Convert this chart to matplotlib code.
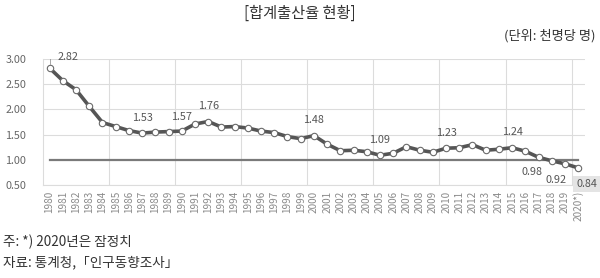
import matplotlib
matplotlib.use("Agg")
import matplotlib.pyplot as plt

plt.rcParams['font.family'] = ['Noto Sans CJK KR', 'DejaVu Sans']

years = [str(y) for y in range(1980, 2020)] + ["2020*)"]
tfr = [2.82, 2.57, 2.39, 2.06, 1.74, 1.66, 1.58, 1.53, 1.55, 1.56,
       1.57, 1.71, 1.76, 1.65, 1.66, 1.63, 1.57, 1.54, 1.46, 1.42,
       1.48, 1.31, 1.18, 1.19, 1.16, 1.09, 1.13, 1.26, 1.19, 1.15,
       1.23, 1.24, 1.30, 1.19, 1.21, 1.24, 1.17, 1.05, 0.98, 0.92,
       0.84]
ref_level = 1.0
# indices of labelled points
label_idx = [0, 7, 10, 12, 20, 25, 30, 35, 38, 39, 40]

fig = plt.figure(figsize=(6, 2.78), dpi=100)
ax = fig.add_axes([0.0717, 0.3345, 0.903, 0.4532])

x = list(range(len(tfr)))
grid_c = "#dcdcdc"
for yv in [0.5, 1.5, 2.0, 2.5, 3.0]:
    ax.axhline(yv, color=grid_c, lw=0.8, zorder=0)
for xv in range(5, 41, 5):
    ax.axvline(xv - 0.5, color=grid_c, lw=0.8, zorder=0)

ax.plot([0, len(tfr) - 1], [ref_level, ref_level], color="#7a7a7a", lw=1.6, zorder=1)
ax.plot(x, tfr, color="#555555", lw=2.6, zorder=2,
        marker="o", markersize=4.6, markerfacecolor="white",
        markeredgecolor="#6a6a6a", markeredgewidth=0.8)

ax.set_xlim(-0.5, 40.5)
ax.set_ylim(0.5, 3.0)
ax.set_yticks([0.5, 1.0, 1.5, 2.0, 2.5, 3.0])
ax.set_yticklabels([f"{v:.2f}" for v in [0.5, 1.0, 1.5, 2.0, 2.5, 3.0]])
ax.set_xticks(x)
ax.set_xticklabels(years, rotation=90, fontsize=7.2, color="#8a8a8a")
ax.tick_params(axis="y", labelsize=7.8, colors="#666666", length=0, pad=12)
ax.tick_params(axis="x", length=0, pad=4)
for s in ["top", "right"]:
    ax.spines[s].set_visible(False)
for s in ["left", "bottom"]:
    ax.spines[s].set_color(grid_c)
    ax.spines[s].set_linewidth(0.8)

lbl_kw = dict(fontsize=7.8, color="#555555", ha="center", va="center")
offsets = {
    0: (6, 8), 7: (0, 11), 10: (0, 10.5), 12: (0, 11), 20: (0, 11),
    25: (0, 11), 30: (0, 11), 35: (0, 11), 38: (-14, -8), 39: (-6.5, -11.5),
    40: (6, -11.5),
}
for i in label_idx:
    dx, dy = offsets[i]
    kw = dict(lbl_kw)
    if i == 0:
        kw["ha"] = "left"
    if i == 40:
        kw["bbox"] = dict(boxstyle="square,pad=0.25", facecolor="#e4e4e4", edgecolor="none")
    ax.annotate(f"{tfr[i]:.2f}", (i, tfr[i]), xytext=(dx, dy),
                textcoords="offset points", **kw)
# leader line for the first label
ax.plot([0, 0, 0.4], [tfr[0] + 0.08, tfr[0] + 0.2, tfr[0] + 0.2], color="#999999", lw=0.6, zorder=3)

fig.text(0.5, 0.952, "[합계출산율 현황]", ha="center", va="center", fontsize=11, color="#333333")
fig.text(0.992, 0.87, "(단위: 천명당 명)", ha="right", va="center", fontsize=9.5, color="#333333")
fig.text(0.005, 0.13, "주: *) 2020년은 잠정치", ha="left", va="center", fontsize=9.8, color="#333333")
fig.text(0.005, 0.055, "자료: 통계청,「인구동향조사」", ha="left", va="center", fontsize=9.8, color="#333333")

fig.savefig("out.png", dpi=100, facecolor="white")
